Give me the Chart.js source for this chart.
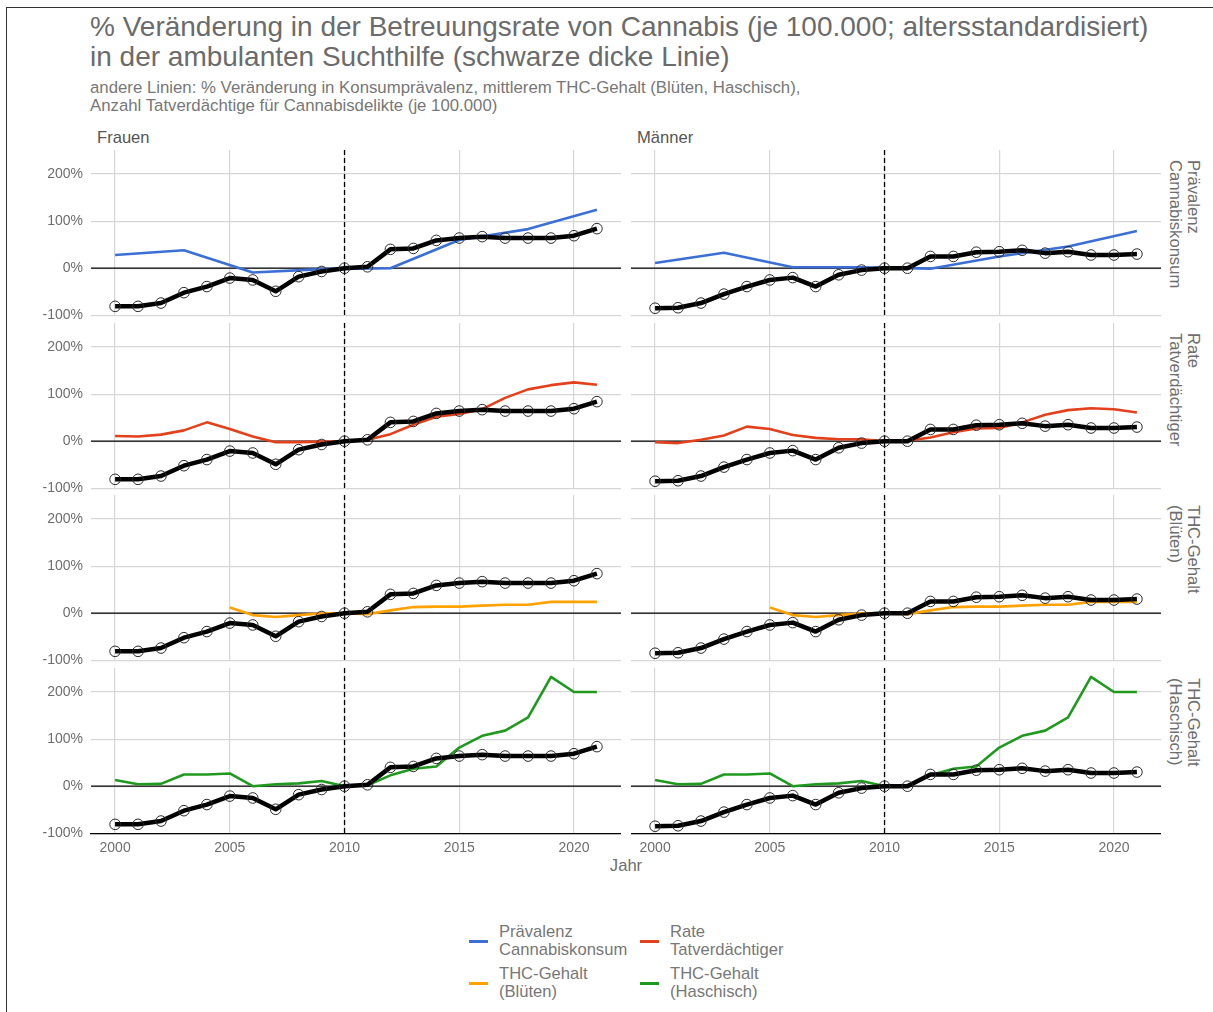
<!DOCTYPE html>
<html>
<head>
<meta charset="utf-8">
<script src="https://cdn.jsdelivr.net/npm/chart.js@4.4.1/dist/chart.umd.min.js"></script>
<style>
  body { margin: 0; background: #fff; }
  #wrap { position: relative; width: 1213px; height: 1012px; overflow: hidden; background: #fff;
          font-family: "Liberation Sans", Arial, sans-serif; }
  .t { position: absolute; white-space: nowrap; }
  canvas { position: absolute; }
  .key { position: absolute; height: 3px; width: 19px; }
  .rot { position: absolute; white-space: nowrap; transform-origin: 0 0; transform: rotate(90deg);
         font-size: 16.6px; line-height: 18px; color: #6e6e6e; }
</style>
</head>
<body>
<div id="wrap">
  <div class="t" style="left:6px;top:7px;width:1300px;height:1100px;border-top:1px solid #333;border-left:1px solid #333;"></div>
  <div class="t" style="left:90px;top:11.5px;font-size:28px;line-height:30px;color:#6b6b6b;">% Veränderung in der Betreuungsrate von Cannabis (je 100.000; altersstandardisiert)<br>in der ambulanten Suchthilfe (schwarze dicke Linie)</div>
  <div class="t" style="left:90px;top:79px;font-size:16.8px;line-height:17.5px;color:#777;">andere Linien: % Veränderung in Konsumprävalenz, mittlerem THC-Gehalt (Blüten, Haschisch),<br>Anzahl Tatverdächtige für Cannabisdelikte (je 100.000)</div>
  <div class="t" style="left:97px;top:129px;font-size:16.6px;line-height:17.5px;color:#555;">Frauen</div>
  <div class="t" style="left:637px;top:129px;font-size:16.6px;line-height:17.5px;color:#555;">Männer</div>
  <div class="t" style="left:0;width:1252px;text-align:center;top:857px;font-size:16.6px;line-height:17.5px;color:#6e6e6e;">Jahr</div>
  <div id="strips"></div>
  <div id="charts"></div>
  <div id="legend"></div>
</div>
<script>
// ---------- data ----------
const years = [2000,2001,2002,2003,2004,2005,2006,2007,2008,2009,2010,2011,2012,2013,2014,2015,2016,2017,2018,2019,2020,2021];
const xTickValues = [2000,2005,2010,2015,2020];
const yTickValues = [-100,0,100,200];
const genders = ["Frauen","Männer"];

const betreuungFrauen  = [-81,-81,-74,-52,-39,-21,-25,-49,-18,-7,0,3,40,42,59,64,67,64,64,64,69,84];
const betreuungMaenner = [-85,-84,-74,-55,-39,-25,-20,-39,-14,-4,0,0,25,25,34,35,38,32,35,28,28,30];

const praevYears   = [2000,2003,2006,2009,2012,2015,2018,2021];
const praevFrauen  = [28,38,-9,-2,0,60,83,124];
const praevMaenner = [11,33,2,2,-1,25,46,79];

const tatFrauen  = [11,10,14,23,40,26,10,-2,-2,-1,0,3,15,35,52,58,68,92,110,119,125,120];
const tatMaenner = [-2,-4,3,12,31,26,13,7,4,4,0,1,8,19,27,28,40,56,66,70,68,61];

const bluetenYears = [2005,2006,2007,2008,2009,2010,2011,2012,2013,2014,2015,2016,2017,2018,2019,2020,2021];
const thcBlueten   = [12,-4,-8,-4,0,0,-2,6,13,14,14,16,18,18,24,24,24];

const thcHaschisch = [13,4,5,25,25,27,0,4,6,11,0,2,23,37,42,82,107,118,146,232,200,200];

const rowLabels = [["Prävalenz","Cannabiskonsum"],["Rate","Tatverdächtiger"],["THC-Gehalt","(Blüten)"],["THC-Gehalt","(Haschisch)"]];
const rowColors = ["#3b6fd6","#e3401c","#ffa200","#1f9a1f"];
const refYear = 2010;
const refZero = 0;

// ---------- layout ----------
const colLeft = [91, 631];
const panelW = 530;
const rowTop = [150, 322.5, 495, 667.5];
const panelH = 166;
const xMin = 1998.95, xMax = 2022.05;
const yMin = -101.5, yMax = 251;

function pts(xs, ys){ return xs.map((x,i)=>({x:x, y:ys[i]})); }

function otherSeries(r, g){
  if (r === 0) return pts(praevYears, g===0 ? praevFrauen : praevMaenner);
  if (r === 1) return pts(years, g===0 ? tatFrauen : tatMaenner);
  if (r === 2) return pts(bluetenYears, thcBlueten);
  return pts(years, thcHaschisch);
}

const refLines = {
  id: 'refLines',
  beforeDatasetsDraw(chart){
    const {ctx, chartArea:a, scales} = chart;
    const x = scales.x, y = scales.y;
    ctx.save();
    ctx.strokeStyle = '#000';
    ctx.lineWidth = 1.3;
    const y0 = y.getPixelForValue(refZero);
    ctx.beginPath(); ctx.moveTo(a.left, y0); ctx.lineTo(a.right, y0); ctx.stroke();
    const xv = x.getPixelForValue(refYear);
    ctx.setLineDash([5,3]);
    ctx.beginPath(); ctx.moveTo(xv, a.top); ctx.lineTo(xv, a.bottom); ctx.stroke();
    ctx.restore();
  }
};

function zeroPad(s){ s.paddingTop = 0; s.paddingBottom = 0; s.paddingLeft = 0; s.paddingRight = 0; }

const chartsDiv = document.getElementById('charts');
const stripsDiv = document.getElementById('strips');

for (let r = 0; r < 4; r++){
  const bottom = (r === 3);
  for (let g = 0; g < 2; g++){
    const left = (g === 0);
    const cv = document.createElement('canvas');
    const yAxisW = left ? colLeft[0] : 0;
    const xAxisH = bottom ? 32 : 0;
    const extraBottom = bottom ? 0 : 12;
    const cLeft = left ? 0 : colLeft[1];
    const w = yAxisW + panelW;
    const h = panelH + xAxisH + extraBottom;
    cv.width = w; cv.height = h;
    cv.style.left = cLeft + 'px';
    cv.style.top = rowTop[r] + 'px';
    cv.style.width = w + 'px'; cv.style.height = h + 'px';
    chartsDiv.appendChild(cv);

    new Chart(cv, {
      type: 'line',
      data: {
        datasets: [
          {
            data: pts(years, g===0 ? betreuungFrauen : betreuungMaenner),
            borderColor: '#000', borderWidth: 4.5, borderJoinStyle: 'round',
            pointRadius: 5.3, pointBorderWidth: 1, pointBorderColor: '#2a2a2a',
            pointBackgroundColor: 'rgba(0,0,0,0)', order: 0, tension: 0
          },
          {
            data: otherSeries(r, g),
            borderColor: rowColors[r], borderWidth: 2.6, borderJoinStyle: 'round',
            pointRadius: 0, order: 1, tension: 0
          }
        ]
      },
      options: {
        responsive: false, animation: false, devicePixelRatio: 1,
        layout: { padding: { top: 0, left: 0, right: 0, bottom: extraBottom }, autoPadding: false },
        plugins: { legend: { display: false }, tooltip: { enabled: false } },
        events: [],
        scales: {
          x: {
            type: 'linear', min: xMin, max: xMax,
            afterBuildTicks: s => { s.ticks = xTickValues.map(v => ({value: v})); },
            afterFit: s => { s.height = xAxisH; zeroPad(s); },
            grid: { color: '#d6d6d6', lineWidth: 1.2, drawTicks: false },
            border: { display: bottom, color: '#000', width: 1.3 },
            ticks: { display: bottom, padding: 6, color: '#6e6e6e',
                     font: { family: 'Liberation Sans', size: 14 },
                     callback: v => String(v), maxRotation: 0, autoSkip: false }
          },
          y: {
            type: 'linear', min: yMin, max: yMax,
            afterBuildTicks: s => { s.ticks = yTickValues.map(v => ({value: v})); },
            afterFit: s => { s.width = yAxisW; zeroPad(s); },
            grid: { color: '#d6d6d6', lineWidth: 1.2, drawTicks: false },
            border: { display: false },
            ticks: { display: left, padding: 8, color: '#6e6e6e',
                     font: { family: 'Liberation Sans', size: 14 },
                     callback: v => v + '%' }
          }
        }
      },
      plugins: [refLines]
    });
  }
  const s = document.createElement('div');
  s.className = 'rot';
  s.style.left = '1202px';
  s.style.top = (rowTop[r] + 10) + 'px';
  s.innerHTML = rowLabels[r][0] + '<br>' + rowLabels[r][1];
  stripsDiv.appendChild(s);
}

// ---------- legend ----------
const legendDiv = document.getElementById('legend');
const legPos = [[469,499,923],[640,670,923],[469,499,965],[640,670,965]];
const legOrder = [0,1,2,3];
legOrder.forEach((r,i) => {
  const [kx, tx, ty] = legPos[i];
  const k = document.createElement('div');
  k.className = 'key';
  k.style.left = kx + 'px';
  k.style.top = (ty + 16.5) + 'px';
  k.style.background = rowColors[r];
  legendDiv.appendChild(k);
  const t = document.createElement('div');
  t.className = 't';
  t.style.cssText += 'left:'+tx+'px;top:'+ty+'px;font-size:16.6px;line-height:18px;color:#777;';
  t.innerHTML = rowLabels[r][0] + '<br>' + rowLabels[r][1];
  legendDiv.appendChild(t);
});
</script>
</body>
</html>
